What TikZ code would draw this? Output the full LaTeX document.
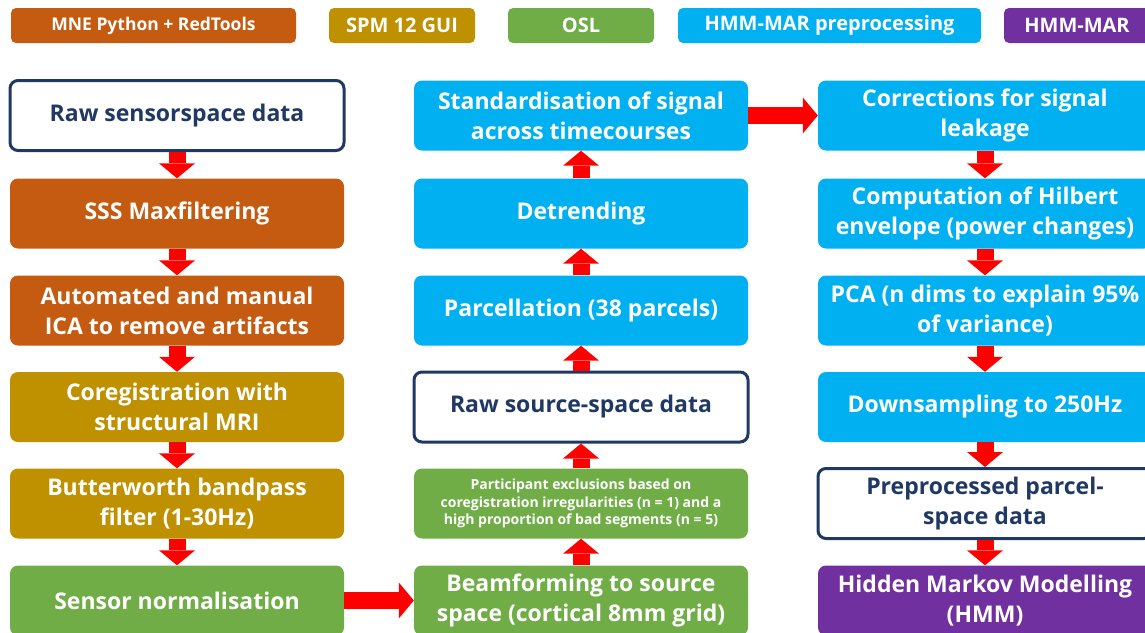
\documentclass[tikz,border=0pt]{standalone}
\usepackage{fontspec}
\setmainfont{Open Sans}
\usetikzlibrary{arrows.meta}
\definecolor{mneorange}{HTML}{C55A11}
\definecolor{spmgold}{HTML}{BF9000}
\definecolor{oslgreen}{HTML}{70AD47}
\definecolor{hmmcyan}{HTML}{00B0F0}
\definecolor{hmmpurple}{HTML}{7030A0}
\definecolor{navy}{HTML}{203864}
\definecolor{flowred}{HTML}{FF0000}
\tikzset{
  stage/.style={rounded corners=8pt, minimum width=334pt, minimum height=70pt,
    align=center, text=white, inner sep=2pt,
    font=\bfseries\fontsize{23}{30}\selectfont},
  datum/.style={stage, fill=white, draw=navy, line width=3pt, text=navy},
  small/.style={font=\bfseries\fontsize{14}{17.5}\selectfont},
  legend/.style={rounded corners=5pt, minimum height=35pt, text=white,
    inner sep=2pt, font=\bfseries\fontsize{20}{24}\selectfont},
  flow/.style={draw=flowred, line width=17pt,
    -{Triangle[width=36pt,length=15pt,line width=0pt]}},
}
\begin{document}
\begin{tikzpicture}[x=1pt,y=-1pt]
\useasboundingbox (0,0) rectangle (1145,632);
\clip (0,0) rectangle (1145,632);

% toolbox legend
\node[legend, fill=mneorange, minimum width=285pt, font=\bfseries\fontsize{17.5}{24}\selectfont] (lg1) at (153.5,25.5) {MNE Python + RedTools};
\node[legend, fill=spmgold, minimum width=146pt] (lg2) at (402,25.5) {SPM 12 GUI};
\node[legend, fill=oslgreen, minimum width=146pt] (lg3) at (581,25.5) {OSL};
\node[legend, fill=hmmcyan, minimum width=303pt] (lg4) at (829.5,25.5) {HMM-MAR preprocessing};
\node[legend, fill=hmmpurple, minimum width=146pt] (lg5) at (1077,25.5) {HMM-MAR};

% sensor-space pipeline
\node[datum] (raw) at (177,115.5) {Raw sensorspace data};
\node[stage, fill=mneorange] (sss) at (177,213.5) {SSS Maxfiltering};
\node[stage, fill=mneorange] (ica) at (177,310.5) {Automated and manual\\ICA to remove artifacts};
\node[stage, fill=spmgold] (coreg) at (177,407) {Coregistration with\\structural MRI};
\node[stage, fill=spmgold] (bw) at (177,503.5) {Butterworth bandpass\\filter (1-30Hz)};
\node[stage, fill=oslgreen] (norm) at (177,600.5) {Sensor normalisation};

% source-space pipeline
\node[stage, fill=oslgreen] (beam) at (581,600.5) {Beamforming to source\\space (cortical 8mm grid)};
\node[stage, fill=oslgreen, small] (excl) at (581,503.5) {Participant exclusions based on\\coregistration irregularities (n = 1) and a\\high proportion of bad segments (n = 5)};
\node[datum] (src) at (581,407) {Raw source-space data};
\node[stage, fill=hmmcyan] (parc) at (581,310.5) {Parcellation (38 parcels)};
\node[stage, fill=hmmcyan] (detr) at (581,213.5) {Detrending};
\node[stage, fill=hmmcyan] (stdz) at (581,115.5) {Standardisation of signal\\across timecourses};

% parcel-space pipeline
\node[stage, fill=hmmcyan] (leak) at (985,115.5) {Corrections for signal\\leakage};
\node[stage, fill=hmmcyan] (hilb) at (985,213.5) {Computation of Hilbert\\envelope (power changes)};
\node[stage, fill=hmmcyan] (pca) at (985,310.5) {PCA (n dims to explain 95\%\\of variance)};
\node[stage, fill=hmmcyan] (down) at (985,407) {Downsampling to 250Hz};
\node[datum] (parcel) at (985,503.5) {Preprocessed parcel-\\space data};
\node[stage, fill=hmmpurple] (hmm) at (985,600.5) {Hidden Markov Modelling\\(HMM)};

% flow arrows
\draw[flow] (raw.south) -- (sss.north);
\draw[flow] (sss.south) -- (ica.north);
\draw[flow] (ica.south) -- (coreg.north);
\draw[flow] (coreg.south) -- (bw.north);
\draw[flow] (bw.south) -- (norm.north);
\draw[flow] (norm.east) -- (beam.west);
\draw[flow] (beam.north) -- (excl.south);
\draw[flow] (excl.north) -- (src.south);
\draw[flow] (src.north) -- (parc.south);
\draw[flow] (parc.north) -- (detr.south);
\draw[flow] (detr.north) -- (stdz.south);
\draw[flow] (stdz.east) -- (leak.west);
\draw[flow] (leak.south) -- (hilb.north);
\draw[flow] (hilb.south) -- (pca.north);
\draw[flow] (pca.south) -- (down.north);
\draw[flow] (down.south) -- (parcel.north);
\draw[flow] (parcel.south) -- (hmm.north);
\end{tikzpicture}
\end{document}
